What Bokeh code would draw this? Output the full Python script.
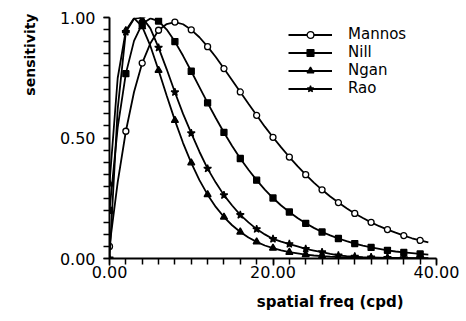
import math
from bokeh.plotting import figure
from bokeh.models import Range1d, FixedTicker, PrintfTickFormatter, Title, Legend, LegendItem
from bokeh.embed import file_html
from bokeh.resources import INLINE

# spatial frequency (cpd)
freq = list(range(0, 40))

mannos = [0.050, 0.316, 0.528, 0.691, 0.811, 0.893, 0.947, 0.973, 0.981, 0.972,
          0.949, 0.918, 0.879, 0.836, 0.788, 0.740, 0.691, 0.642, 0.594, 0.547,
          0.503, 0.461, 0.421, 0.383, 0.348, 0.315, 0.285, 0.257, 0.232, 0.209,
          0.187, 0.168, 0.150, 0.134, 0.120, 0.107, 0.095, 0.084, 0.075, 0.067]

nill = [0.200, 0.543, 0.767, 0.903, 0.974, 0.996, 0.985, 0.950, 0.900, 0.841,
        0.777, 0.711, 0.646, 0.583, 0.523, 0.467, 0.415, 0.368, 0.325, 0.286,
        0.251, 0.220, 0.193, 0.168, 0.146, 0.127, 0.110, 0.096, 0.083, 0.072,
        0.062, 0.053, 0.046, 0.040, 0.034, 0.029, 0.025, 0.022, 0.019, 0.016]

ngan = [0.310, 0.748, 0.946, 0.997, 0.962, 0.882, 0.781, 0.675, 0.573, 0.479,
        0.397, 0.325, 0.265, 0.214, 0.172, 0.138, 0.110, 0.087, 0.069, 0.054,
        0.043, 0.034, 0.026, 0.021, 0.016, 0.0125, 0.0097, 0.0075, 0.0058, 0.0045,
        0.0035, 0.0027, 0.0021, 0.0016, 0.0012, 0.0009, 0.0007, 0.0006, 0.0004, 0.0003]

rao = [0.000, 0.620, 0.940, 0.995, 1.000, 0.955, 0.875, 0.785, 0.690, 0.600,
       0.520, 0.443, 0.373, 0.315, 0.263, 0.220, 0.181, 0.150, 0.122, 0.100,
       0.081, 0.070, 0.060, 0.050, 0.040, 0.033, 0.026, 0.019, 0.013, 0.010,
       0.008, 0.006, 0.005, 0.004, 0.003, 0.002, 0.002, 0.001, 0.001, 0.001]

series_names = ["Mannos", "Nill", "Ngan", "Rao"]
series_values = [mannos, nill, ngan, rao]
series_markers = ["circle", "square", "triangle", "star"]

x_ticks = [0, 20, 40]
x_minor = list(range(0, 41, 2))
y_ticks = [0.0, 0.5, 1.0]
y_minor = [round(0.05 * i, 2) for i in range(21)]

FONT = "DejaVu Sans"

p = figure(width=462, height=321, output_backend="svg", toolbar_location=None,
           x_range=Range1d(0, 40), y_range=Range1d(0, 1.0),
           min_border_left=109, min_border_right=26, min_border_top=17,
           min_border_bottom=10, background_fill_color="white",
           border_fill_color="white")
p.outline_line_color = None
p.grid.visible = False

for ax in (p.xaxis, p.yaxis):
    ax.axis_line_width = 2
    ax.axis_line_color = "black"
    ax.major_tick_line_width = 1.5
    ax.minor_tick_line_width = 1.5
    ax.major_tick_line_color = "black"
    ax.minor_tick_line_color = "black"
    ax.major_tick_in = 0
    ax.minor_tick_in = 0
    ax.major_label_text_font = FONT
    ax.major_label_text_font_size = "16px"
    ax.major_label_text_color = "black"

p.xaxis.ticker = FixedTicker(ticks=x_ticks, minor_ticks=x_minor)
p.yaxis.ticker = FixedTicker(ticks=y_ticks, minor_ticks=y_minor)
p.xaxis.formatter = PrintfTickFormatter(format="%.2f")
p.yaxis.formatter = PrintfTickFormatter(format="%.2f")
p.xaxis.major_tick_out = 7
p.xaxis.minor_tick_out = 6
p.yaxis.major_tick_out = 6
p.yaxis.minor_tick_out = 6
p.xaxis.major_label_standoff = 0
p.yaxis.major_label_standoff = 8

items = []
for name, vals, mk in zip(series_names, series_values, series_markers):
    lr = p.line(freq, vals, line_color="black", line_width=1.8)
    size = {"circle": 6, "square": 6, "triangle": 7, "star": 8}[mk]
    fill = "white" if mk == "circle" else "black"
    sr = p.scatter(freq[::2], vals[::2], marker=mk, size=size,
                   fill_color=fill, line_color="black", line_width=1.3)
    items.append(LegendItem(label=name, renderers=[lr, sr]))

legend = Legend(items=items, location=(179, 161), border_line_color=None,
                background_fill_alpha=0, padding=0, margin=0, spacing=0,
                glyph_width=44, glyph_height=17, label_height=17,
                label_standoff=16, label_text_font=FONT,
                label_text_font_size="15px", label_text_color="black")
p.add_layout(legend)

ytitle = Title(text="sensitivity", align="right", offset=-4, standoff=38,
               text_font=FONT, text_font_size="14px", text_font_style="bold",
               text_color="black")
p.add_layout(ytitle, "left")
xtitle = Title(text="spatial freq (cpd)", align="right", offset=33, standoff=21,
               text_font=FONT, text_font_size="15px", text_font_style="bold",
               text_color="black")
p.add_layout(xtitle, "below")

open("out.html", "w").write(file_html(p, INLINE))
